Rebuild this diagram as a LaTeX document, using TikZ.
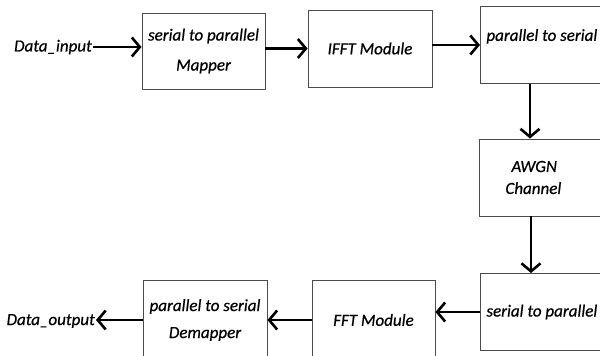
\documentclass[tikz,border=0pt]{standalone}
\usepackage{fontspec}
\setmainfont{Carlito}[ItalicFeatures={FakeBold=0.6}]
\usetikzlibrary{arrows.meta}
\tikzset{>={Straight Barb[length=8pt,width=19pt]}}

\begin{document}
\begin{tikzpicture}[x=1pt,y=-1pt,
  block/.style={draw=black!70, line width=0.9pt, align=center, font=\fontsize{17}{30}\selectfont\itshape},
  rblock/.style={block, align=flush left, anchor=west, text width=138pt, inner xsep=6pt, minimum width=150pt, minimum height=77pt},
  flow/.style={->, line width=2.6pt},
  tag/.style={font=\fontsize{17}{20}\selectfont\itshape, inner sep=1pt}]
\useasboundingbox (0,0) rectangle (600,356);
\clip (0,0) rectangle (600,356);
% top row:
\node[tag, anchor=east] (din) at (93,47) {Data\_input};
\node[block, minimum width=123pt, minimum height=76pt] (map) at (203.5,51) {serial to parallel\\Mapper};
\node[block, minimum width=124pt, minimum height=77pt] (ifft) at (370,48.5) {IFFT Module};
\node[rblock, font=\fontsize{17}{20}\selectfont\itshape] (ps) at (480,45) {parallel to serial\\\mbox{}};
% channel:
\node[rblock, font=\fontsize{17}{22}\selectfont\itshape] (awgn) at (479,177.5) {\hspace*{26pt}AWGN\\\hspace*{20pt}Channel};
% bottom row:
\node[rblock] (sp) at (480,312) {serial to parallel};
\node[block, minimum width=123pt, minimum height=80pt] (fft) at (373.5,320) {FFT Module};
\node[block, minimum width=124pt, minimum height=80pt, font=\fontsize{17}{27}\selectfont\itshape] (demap) at (205,320) {parallel to serial\\Demapper};
\node[tag, anchor=east] (dout) at (96,321) {Data\_output};
%% arrows
\draw[flow] (din.east) -- (din.east -| map.west);
\draw[flow] (map.east |- ifft) -- (ifft.west);
\draw[flow] (ifft.east |- ps) -- (ps.west);
\draw[flow] ([xshift=50pt]ps.south west) -- ([xshift=50pt]ps.south west |- awgn.north);
\draw[flow] ([xshift=52pt]awgn.south west) -- ([xshift=52pt]awgn.south west |- sp.north);
\draw[flow] (sp.west) -- (sp.west -| fft.east);
\draw[flow] (fft.west) -- (fft.west -| demap.east);
\draw[flow] (demap.west) -- (demap.west -| dout.east);
\end{tikzpicture}
\end{document}
